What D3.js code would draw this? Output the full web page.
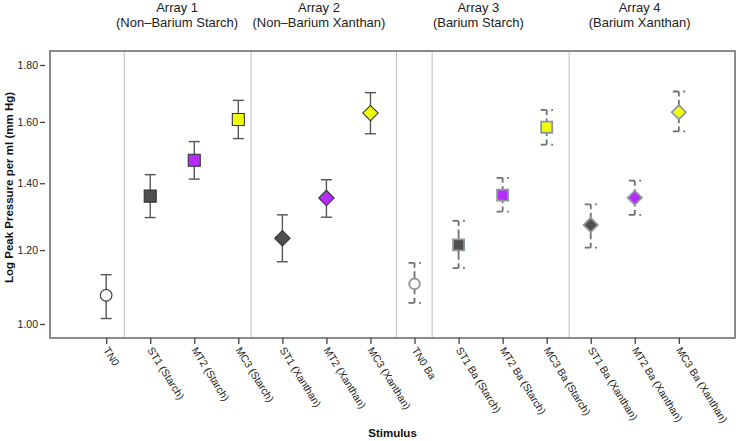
<!DOCTYPE html>
<html>
<head>
<meta charset="utf-8">
<script src="https://cdn.jsdelivr.net/npm/d3@7"></script>
<style>
  html, body { margin: 0; padding: 0; background: #fff; }
  svg { display: block; font-family: "Liberation Sans", Arial, sans-serif; }
</style>
</head>
<body>
<svg id="chart" width="738" height="441"></svg>
<script>
// ---- data ----
const categories = ["TN0", "ST1 (Starch)", "MT2 (Starch)", "MC3 (Starch)",
  "ST1 (Xanthan)", "MT2 (Xanthan)", "MC3 (Xanthan)",
  "TN0 Ba", "ST1 Ba (Starch)", "MT2 Ba (Starch)", "MC3 Ba (Starch)",
  "ST1 Ba (Xanthan)", "MT2 Ba (Xanthan)", "MC3 Ba (Xanthan)"];
const means = [1.075, 1.360, 1.473, 1.608, 1.234, 1.354, 1.630,
               1.106, 1.215, 1.363, 1.582, 1.273, 1.355, 1.633];
const upper = [1.131, 1.427, 1.534, 1.674, 1.303, 1.411, 1.701,
               1.164, 1.285, 1.417, 1.641, 1.335, 1.408, 1.705];
const lower = [1.014, 1.295, 1.413, 1.544, 1.167, 1.296, 1.560,
               1.055, 1.149, 1.313, 1.524, 1.207, 1.303, 1.568];
const shapes = ["circle", "square", "square", "square", "diamond", "diamond", "diamond",
                "circle", "square", "square", "square", "diamond", "diamond", "diamond"];
const fills = ["#ffffff", "#4f4f4f", "#b52cff", "#f2ff0a", "#4f4f4f", "#b52cff", "#f2ff0a",
               "#ffffff", "#4f4f4f", "#b52cff", "#f2ff0a", "#4f4f4f", "#b52cff", "#f2ff0a"];
const barium = [false, false, false, false, false, false, false,
                true, true, true, true, true, true, true];
const yTicks = [1.00, 1.20, 1.40, 1.60, 1.80];
const arrayTitles = ["Array 1", "Array 2", "Array 3", "Array 4"];
const arraySubtitles = ["(Non\u2013Barium Starch)", "(Non\u2013Barium Xanthan)", "(Barium Starch)", "(Barium Xanthan)"];
// positions expressed in category-index units
const arrayTitlePos = [1.61, 4.83, 8.45, 12.11];
const separatorPos = [0.41, 3.29, 6.59, 7.40, 10.51];
const xTitle = "Stimulus";
const yTitle = "Log Peak Pressure per ml (mm Hg)";

// ---- layout ----
const W = 738, H = 441;
const plot = { left: 50, right: 735, top: 51, bottom: 338 };
const svg = d3.select("#chart");

const x = d3.scalePoint().domain(categories).range([plot.left, plot.right]).padding(1.275);
const y = d3.scalePow().exponent(0.4).domain([1.0, 1.8]).range([324, 65]);
const idx = u => x(categories[0]) + u * x.step();

// separators
svg.append("g").selectAll("line").data(separatorPos).join("line")
  .attr("x1", d => idx(d)).attr("x2", d => idx(d))
  .attr("y1", plot.top).attr("y2", plot.bottom)
  .attr("stroke", "#bdbdbd").attr("stroke-width", 1);

// frame
svg.append("rect")
  .attr("x", plot.left).attr("y", plot.top)
  .attr("width", plot.right - plot.left).attr("height", plot.bottom - plot.top)
  .attr("fill", "none").attr("stroke", "#6e6e6e").attr("stroke-width", 1.6);

// y axis (offset ticks)
const yAxis = svg.append("g").attr("transform", "translate(45,0)")
  .call(d3.axisLeft(y).tickValues(yTicks).tickFormat(d3.format(".2f")).tickSize(5).tickPadding(2));
yAxis.select(".domain").remove();
yAxis.selectAll("line").attr("stroke", "#444").attr("stroke-width", 1.3);
yAxis.selectAll("text").attr("font-size", 10.5).attr("fill", "#222")
  .attr("font-family", "'Liberation Sans', Arial, sans-serif");

// x axis
const xAxis = svg.append("g").attr("transform", `translate(0,${plot.bottom})`)
  .call(d3.axisBottom(x).tickSize(6).tickFormat(""));
xAxis.select(".domain").remove();
xAxis.selectAll("line").attr("stroke", "#444").attr("stroke-width", 1.3);

svg.append("g").selectAll("text").data(categories).join("text")
  .attr("transform", d => `translate(${x(d)},${plot.bottom + 10}) rotate(58)`)
  .attr("dy", "0.35em")
  .attr("text-anchor", "start")
  .attr("font-size", 10.5).attr("fill", "#222")
  .text(d => d);

// axis titles
svg.append("text")
  .attr("x", (plot.left + plot.right) / 2).attr("y", 437)
  .attr("text-anchor", "middle").attr("font-size", 11.5).attr("font-weight", "bold")
  .attr("fill", "#111").text(xTitle);

svg.append("text")
  .attr("transform", `translate(13,${(plot.top + plot.bottom) / 2 - 7}) rotate(-90)`)
  .attr("text-anchor", "middle").attr("font-size", 11.5).attr("font-weight", "bold")
  .attr("fill", "#111").text(yTitle);

// array titles
const tg = svg.append("g");
tg.selectAll("text.t1").data(arrayTitles).join("text").attr("class", "t1")
  .attr("x", (d, i) => idx(arrayTitlePos[i])).attr("y", 12)
  .attr("text-anchor", "middle").attr("font-size", 13).attr("fill", "#222").text(d => d);
tg.selectAll("text.t2").data(arraySubtitles).join("text").attr("class", "t2")
  .attr("x", (d, i) => idx(arrayTitlePos[i])).attr("y", 27)
  .attr("text-anchor", "middle").attr("font-size", 13).attr("fill", "#222").text(d => d);

// error bars
const capHalf = 5.5;
const eb = svg.append("g");
categories.forEach((c, i) => {
  const cx = x(c), yu = y(upper[i]), yl = y(lower[i]), ym = y(means[i]);
  if (!barium[i]) {
    eb.append("line").attr("x1", cx).attr("x2", cx).attr("y1", yu).attr("y2", yl)
      .attr("stroke", "#555").attr("stroke-width", 1.4);
    [yu, yl].forEach(yy => eb.append("line")
      .attr("x1", cx - capHalf).attr("x2", cx + capHalf).attr("y1", yy).attr("y2", yy)
      .attr("stroke", "#555").attr("stroke-width", 1.4));
  } else {
    const col = "#6f6f6f";
    [[yu, ym], [yl, ym]].forEach(([a, b]) => eb.append("line")
      .attr("x1", cx).attr("x2", cx).attr("y1", a).attr("y2", b)
      .attr("stroke", col).attr("stroke-width", 1.8)
      .attr("stroke-dasharray", "5,3.5,200"));
    [yu, yl].forEach(yy => eb.append("line")
      .attr("x1", cx - 6).attr("x2", cx + 6.5).attr("y1", yy).attr("y2", yy)
      .attr("stroke", col).attr("stroke-width", 1.8)
      .attr("stroke-dasharray", "6,4.5,1.8,20"));
  }
});

// markers
const symType = { circle: d3.symbolCircle, square: d3.symbolSquare, diamond: d3.symbolSquare };
const symSize = { circle: 105, square: 144, diamond: 118 };
svg.append("g").selectAll("path").data(categories).join("path")
  .attr("transform", (d, i) => `translate(${x(d)},${y(means[i])})` + (shapes[i] === "diamond" ? " rotate(45)" : ""))
  .attr("d", (d, i) => d3.symbol().type(symType[shapes[i]]).size(barium[i] ? symSize[shapes[i]] * 0.85 : symSize[shapes[i]])())
  .attr("fill", (d, i) => fills[i])
  .attr("stroke", (d, i) => barium[i] ? "#8f9898" : "#333")
  .attr("stroke-width", (d, i) => barium[i] ? 1.8 : 1.1);
</script>
</body>
</html>
